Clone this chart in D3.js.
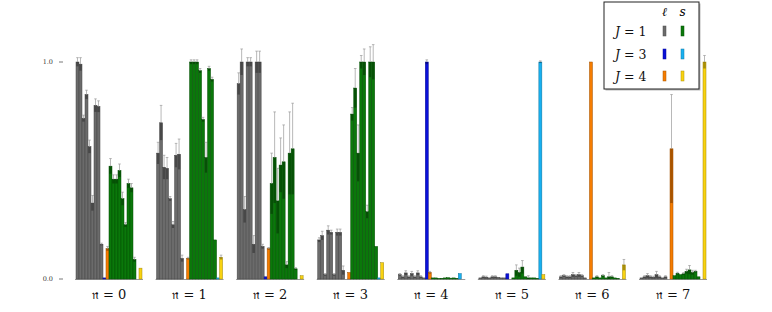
<!DOCTYPE html>
<html>
<head>
<meta charset="utf-8">
<script src="https://cdn.jsdelivr.net/npm/d3@7"></script>
<style>
  body { margin: 0; background: #fff; }
  svg { display: block; }
</style>
</head>
<body>
<div id="viz"></div>
<script>
// groups n = 0..7, each: 9 x (J=1, l), J=3 l, J=4 l, 9 x (J=1, s), J=3 s, J=4 s
const groups = [0, 1, 2, 3, 4, 5, 6, 7];
const yTicks = [0, 1];

const ell1 = [
    [1.00, 0.99, 0.74, 0.85, 0.61, 0.35, 0.80, 0.795, 0.16],
    [0.58, 0.72, 0.515, 0.51, 0.37, 0.25, 0.57, 0.575, 0.095],
    [0.90, 1.00, 0.32, 1.00, 1.00, 0.16, 1.00, 1.00, 0.15],
    [0.18, 0.20, 0.02, 0.225, 0.215, 0.02, 0.215, 0.215, 0.04],
    [0.02, 0.01, 0.028, 0.01, 0.025, 0.01, 0.028, 0.01, 0.005],
    [0.005, 0.01, 0.008, 0.005, 0.01, 0.01, 0.008, 0.005, 0.005],
    [0.01, 0.015, 0.01, 0.01, 0.02, 0.015, 0.02, 0.015, 0.005],
    [0.005, 0.01, 0.015, 0.01, 0.008, 0.02, 0.01, 0.005, 0.01]
];
const ell1Err = [
    [0.02, 0.03, 0.015, 0.02, 0.03, 0.035, 0.03, 0.026, 0.005],
    [0.05, 0.08, 0.055, 0.05, 0.01, 0.015, 0.055, 0.07, 0.015],
    [0.05, 0.06, 0.06, 0.02, 0.02, 0.04, 0.05, 0.05, 0.01],
    [0.01, 0.02, 0.005, 0.02, 0.01, 0.005, 0.015, 0.015, 0.02],
    [0.005, 0.005, 0.01, 0.005, 0.01, 0.005, 0.01, 0.005, 0],
    [0, 0.005, 0.005, 0, 0.005, 0.005, 0, 0, 0],
    [0.005, 0.005, 0.005, 0.005, 0.01, 0.005, 0.01, 0.005, 0],
    [0, 0.005, 0.01, 0.005, 0.005, 0.015, 0.005, 0, 0.005]
];
const ell3 = [0.005, 0, 0.01, 0, 1.0, 0.024, 0, 0];
const ell3Err = [0, 0, 0, 0, 0.01, 0, 0, 0];
const ell4 = [0.14, 0.095, 0.14, 0.03, 0.03, 0, 1.0, 0.60];
const ell4Err = [0.01, 0.005, 0.005, 0, 0.005, 0, 0, 0.25];

const s1 = [
    [0.52, 0.46, 0.46, 0.50, 0.37, 0.25, 0.44, 0.42, 0.09],
    [1.0, 1.0, 1.0, 0.96, 0.735, 0.56, 0.97, 0.92, 0.18],
    [0.44, 0.56, 0.36, 0.525, 0.54, 0.065, 0.58, 0.60, 0.047],
    [0.76, 0.88, 0.58, 1.0, 1.0, 0.31, 1.0, 1.0, 0.15],
    [0.005, 0.005, 0.002, 0.003, 0.005, 0.006, 0.004, 0.005, 0.003],
    [0.005, 0.04, 0.03, 0.055, 0.01, 0.005, 0.005, 0.005, 0.003],
    [0.005, 0.01, 0.005, 0.015, 0.005, 0.01, 0.01, 0.005, 0.003],
    [0.015, 0.026, 0.02, 0.024, 0.035, 0.042, 0.03, 0.035, 0.01]
];
const s1Err = [
    [0.035, 0.02, 0.02, 0.03, 0.03, 0.01, 0.02, 0.02, 0.01],
    [0.01, 0.01, 0.01, 0.01, 0.01, 0.07, 0.01, 0.01, 0],
    [0.14, 0.21, 0.15, 0.125, 0.17, 0.015, 0.19, 0.21, 0.005],
    [0.03, 0.09, 0.13, 0.03, 0.06, 0.03, 0.07, 0.08, 0],
    [0, 0, 0, 0, 0, 0, 0, 0, 0],
    [0, 0.025, 0.02, 0.03, 0, 0.01, 0, 0, 0],
    [0, 0.005, 0, 0.005, 0, 0.02, 0.005, 0, 0],
    [0, 0.005, 0, 0.005, 0.01, 0.02, 0.01, 0.005, 0]
];
const s3 = [0, 0.005, 0, 0.005, 0.025, 1.0, 0, 0];
const s3Err = [0, 0, 0, 0, 0, 0.005, 0, 0];
const s4 = [0.05, 0.10, 0.015, 0.075, 0, 0.02, 0.065, 1.0];
const s4Err = [0, 0.01, 0, 0, 0, 0, 0.025, 0.03];

const colors = {
    l1: '#6b6b6b', l3: '#0a10d8', l4: '#f57c00',
    s1: '#0a780a', s3: '#18b0f0', s4: '#f8d210'
};
const legendRows = [
    { label: '1', l: 'l1', s: 's1' },
    { label: '3', l: 'l3', s: 's3' },
    { label: '4', l: 'l4', s: 's4' }
];

const width = 772;
const height = 312;

const svg = d3.select('#viz').append('svg')
    .attr('width', width)
    .attr('height', height);

const y = d3.scaleLinear().domain([0, 1]).range([279, 62]);

const x0 = d3.scaleBand()
    .domain(groups)
    .range([76, 706])
    .paddingInner(0.181)
    .paddingOuter(0);

const barsFor = g => [
    ...ell1[g].map((v, i) => ({ key: 'l1', v: v, e: ell1Err[g][i] })),
    { key: 'l3', v: ell3[g], e: ell3Err[g] },
    { key: 'l4', v: ell4[g], e: ell4Err[g] },
    ...s1[g].map((v, i) => ({ key: 's1', v: v, e: s1Err[g][i] })),
    { key: 's3', v: s3[g], e: s3Err[g] },
    { key: 's4', v: s4[g], e: s4Err[g] }
];

const x1 = d3.scaleBand()
    .domain(d3.range(barsFor(0).length))
    .range([0, x0.bandwidth()]);

// y ticks
const ticks = svg.append('g');
ticks.selectAll('line')
    .data(yTicks)
    .enter()
    .append('line')
    .attr('x1', 59).attr('x2', 63)
    .attr('y1', d => y(d)).attr('y2', d => y(d))
    .attr('stroke', '#555')
    .attr('stroke-width', 0.8);
ticks.selectAll('text')
    .data(yTicks)
    .enter()
    .append('text')
    .attr('x', 53)
    .attr('y', d => y(d) + 2.3)
    .attr('text-anchor', 'end')
    .attr('font-family', 'DejaVu Serif, serif')
    .attr('font-size', 6.5)
    .attr('fill', '#333')
    .text(d => d3.format('.1f')(d));

const group = svg.selectAll('g.group')
    .data(groups)
    .enter()
    .append('g')
    .attr('class', 'group')
    .attr('transform', d => `translate(${x0(d)},0)`);

group.append('line')
    .attr('x1', -1)
    .attr('x2', x0.bandwidth() + 1)
    .attr('y1', y(0) + 0.5)
    .attr('y2', y(0) + 0.5)
    .attr('stroke', '#999')
    .attr('stroke-width', 1);

const bar = group.selectAll('g.bar')
    .data(d => barsFor(d))
    .enter()
    .append('g')
    .attr('class', 'bar')
    .attr('transform', (d, i) => `translate(${x1(i)},0)`);

bar.append('rect')
    .attr('x', 0)
    .attr('width', x1.bandwidth())
    .attr('y', d => y(d.v))
    .attr('height', d => y(0) - y(d.v))
    .attr('fill', d => colors[d.key])
    .attr('stroke', d => d3.color(colors[d.key]).darker(1.2))
    .attr('stroke-width', 0.5);

const withErr = bar.filter(d => d.e > 0);

withErr.append('rect')
    .attr('x', 0.3)
    .attr('width', x1.bandwidth() - 0.6)
    .attr('y', d => y(d.v))
    .attr('height', d => y(Math.max(0, d.v - d.e)) - y(d.v))
    .attr('fill', 'rgba(0,0,0,0.32)');

withErr.append('line')
    .attr('x1', x1.bandwidth() / 2)
    .attr('x2', x1.bandwidth() / 2)
    .attr('y1', d => y(d.v))
    .attr('y2', d => y(d.v + d.e))
    .attr('stroke', '#999')
    .attr('stroke-width', 0.7);

withErr.append('line')
    .attr('x1', 0.2)
    .attr('x2', x1.bandwidth() - 0.2)
    .attr('y1', d => y(d.v + d.e))
    .attr('y2', d => y(d.v + d.e))
    .attr('stroke', '#999')
    .attr('stroke-width', 0.7);

group.append('text')
    .attr('x', x0.bandwidth() / 2)
    .attr('y', 299)
    .attr('text-anchor', 'middle')
    .attr('font-family', 'DejaVu Serif, serif')
    .attr('font-size', 13)
    .attr('fill', '#111')
    .text(d => '\u{1D52B} = ' + d);

// legend
const legend = svg.append('g').attr('transform', 'translate(604,2)');
legend.append('rect')
    .attr('x', 1.5).attr('y', 1.5)
    .attr('width', 95).attr('height', 87)
    .attr('fill', '#bbb');
legend.append('rect')
    .attr('x', 0).attr('y', 0)
    .attr('width', 95).attr('height', 87)
    .attr('fill', '#fff')
    .attr('stroke', '#222')
    .attr('stroke-width', 1);

const colX = { l: 59, s: 77 };
legend.append('text')
    .attr('x', colX.l + 1.5).attr('y', 14)
    .attr('text-anchor', 'middle')
    .attr('font-family', 'DejaVu Serif, serif')
    .attr('font-style', 'italic')
    .attr('font-size', 12)
    .text('\u2113');
legend.append('text')
    .attr('x', colX.s + 1.5).attr('y', 14)
    .attr('text-anchor', 'middle')
    .attr('font-family', 'DejaVu Serif, serif')
    .attr('font-style', 'italic')
    .attr('font-size', 12)
    .text('s');

const row = legend.selectAll('g.row')
    .data(legendRows)
    .enter()
    .append('g')
    .attr('class', 'row')
    .attr('transform', (d, i) => `translate(0,${[29, 52, 74][i]})`);

const rowText = row.append('text')
    .attr('x', 11)
    .attr('y', 5)
    .attr('font-family', 'DejaVu Serif, serif')
    .attr('font-size', 12.5)
    .attr('fill', '#111');
rowText.append('tspan').attr('font-style', 'italic').text('J');
rowText.append('tspan').text(d => ' = ' + d.label);

['l', 's'].forEach(c => {
    row.append('rect')
        .attr('x', colX[c])
        .attr('y', -5)
        .attr('width', 3)
        .attr('height', 10)
        .attr('fill', d => colors[d[c]])
        .attr('stroke', d => d3.color(colors[d[c]]).darker(1))
        .attr('stroke-width', 0.5);
});
</script>
</body>
</html>
